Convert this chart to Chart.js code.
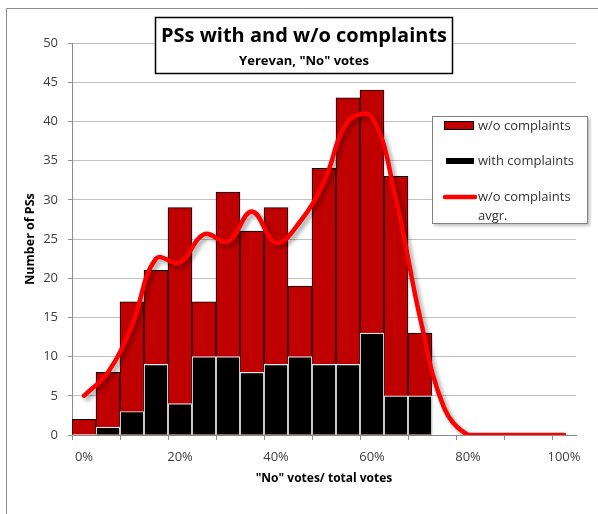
<!DOCTYPE html>
<html>
<head>
<meta charset="utf-8">
<script src="https://cdn.jsdelivr.net/npm/chart.js@4.4.1/dist/chart.umd.min.js"></script>
<style>
  html, body { margin: 0; padding: 0; background: #fff; }
  #wrap { position: relative; width: 598px; height: 514px; }
</style>
</head>
<body>
<div id="wrap"><canvas id="c" width="598" height="514"></canvas></div>
<script>
const categories = ['0%','5%','10%','15%','20%','25%','30%','35%','40%','45%','50%','55%','60%','65%','70%','75%','80%','85%','90%','95%','100%'];
const woComplaints   = [2, 8, 17, 21, 29, 17, 31, 26, 29, 19, 34, 43, 44, 33, 13, 0, 0, 0, 0, 0, 0];
const withComplaints = [0, 1, 3, 9, 4, 10, 10, 8, 9, 10, 9, 9, 13, 5, 5, 0, 0, 0, 0, 0, 0];
const woAvg          = [5, 8, 14, 22.5, 22, 25.6, 24.7, 28.5, 24.5, 27.2, 32.3, 40, 40.5, 30, 15, 3.5, 0, 0, 0, 0, 0];
const yTicks = [0, 5, 10, 15, 20, 25, 30, 35, 40, 45, 50];
const titleText = 'PSs with and w/o complaints';
const subtitleText = 'Yerevan, "No" votes';
const seriesNames = ['w/o complaints', 'with complaints', 'w/o complaints avgr.'];
const xTitle = '"No" votes/ total votes';
const yTitle = 'Number of PSs';

const FONT = '"Open Sans", "DejaVu Sans", sans-serif';

const decor = {
  id: 'decor',
  beforeDraw(chart) {
    const ctx = chart.ctx;
    ctx.save();
    ctx.fillStyle = '#fff';
    ctx.fillRect(0, 0, chart.width, chart.height);
    ctx.strokeStyle = '#8c8c8c';
    ctx.lineWidth = 1;
    ctx.beginPath();
    ctx.moveTo(6.5, 514);
    ctx.lineTo(6.5, 8.5);
    ctx.lineTo(598, 8.5);
    ctx.stroke();
    ctx.restore();
  },
  beforeDatasetDraw(chart, args) {
    if (args.index === 2) {
      const ctx = chart.ctx;
      ctx.save();
      ctx.shadowColor = 'rgba(0,0,0,0.35)';
      ctx.shadowBlur = 4;
      ctx.shadowOffsetX = 3;
      ctx.shadowOffsetY = 3;
    }
  },
  afterDatasetDraw(chart, args) {
    if (args.index === 2) chart.ctx.restore();
  },
  afterDraw(chart) {
    const ctx = chart.ctx;
    ctx.save();
    // Title box
    ctx.fillStyle = '#fff';
    ctx.fillRect(155, 17, 298, 57);
    ctx.strokeStyle = '#000';
    ctx.lineWidth = 1.5;
    ctx.strokeRect(155.5, 17.5, 297, 56);
    ctx.fillStyle = '#000';
    ctx.textAlign = 'center';
    ctx.textBaseline = 'middle';
    ctx.font = 'bold 20px ' + FONT;
    ctx.fillText(titleText, 304, 36);
    ctx.font = 'bold 13px ' + FONT;
    ctx.fillText(subtitleText, 304, 61);

    // Legend box
    ctx.shadowColor = 'rgba(0,0,0,0.25)';
    ctx.shadowBlur = 3;
    ctx.shadowOffsetX = 2;
    ctx.shadowOffsetY = 2;
    ctx.fillStyle = '#fff';
    ctx.fillRect(432, 116, 156, 108);
    ctx.shadowColor = 'transparent';
    ctx.strokeStyle = '#808080';
    ctx.lineWidth = 1;
    ctx.strokeRect(432.5, 116.5, 155, 107);

    const ds = chart.data.datasets;
    // red swatch
    ctx.fillStyle = ds[0].backgroundColor;
    ctx.fillRect(444, 121, 30, 9);
    ctx.strokeStyle = '#000';
    ctx.strokeRect(444.5, 121.5, 29, 8);
    // black swatch
    ctx.fillStyle = ds[1].backgroundColor;
    ctx.fillRect(446, 158, 28, 6);
    // line swatch
    ctx.strokeStyle = ds[2].borderColor;
    ctx.lineWidth = 4.5;
    ctx.lineCap = 'round';
    ctx.beginPath();
    ctx.moveTo(445, 197);
    ctx.lineTo(475, 197);
    ctx.stroke();

    ctx.fillStyle = '#333';
    ctx.textAlign = 'left';
    ctx.textBaseline = 'middle';
    ctx.font = '13px ' + FONT;
    ctx.fillText(ds[0].label, 478, 126);
    ctx.fillText(ds[1].label, 478, 161);
    const parts = ds[2].label.split(' ');
    ctx.fillText(parts.slice(0, 2).join(' '), 478, 197);
    ctx.fillText(parts.slice(2).join(' '), 478, 216);
    ctx.restore();
  }
};

new Chart(document.getElementById('c'), {
  type: 'bar',
  data: {
    labels: categories,
    datasets: [
      {
        label: seriesNames[0],
        data: woComplaints,
        backgroundColor: '#C00000',
        borderColor: '#000',
        borderWidth: 1,
        grouped: false,
        categoryPercentage: 1,
        barPercentage: 1,
        order: 3
      },
      {
        label: seriesNames[1],
        data: withComplaints,
        backgroundColor: '#000',
        borderColor: '#e6e6e6',
        borderWidth: 1.2,
        grouped: false,
        categoryPercentage: 1,
        barPercentage: 1,
        order: 2
      },
      {
        type: 'line',
        label: seriesNames[2],
        data: woAvg,
        borderColor: '#FF0000',
        borderWidth: 4.5,
        pointRadius: 0,
        tension: 0.4,
        fill: false,
        order: 1,
        borderCapStyle: 'round'
      }
    ]
  },
  options: {
    responsive: false,
    animation: false,
    devicePixelRatio: 1,
    layout: { padding: { left: 0, right: 22, top: 43, bottom: 0 } },
    plugins: {
      legend: { display: false },
      title: { display: false },
      tooltip: { enabled: false }
    },
    scales: {
      x: {
        type: 'category',
        offset: true,
        afterFit(s) { s.height = 79; },
        border: { display: true, color: '#8c8c8c', width: 1 },
        grid: {
          display: true,
          offset: true,
          drawOnChartArea: false,
          drawTicks: true,
          tickLength: 5,
          color: (c) => (c.index % 2 === 0 ? '#8c8c8c' : 'rgba(0,0,0,0)')
        },
        ticks: {
          autoSkip: false,
          maxRotation: 0,
          minRotation: 0,
          padding: 9,
          color: '#404040',
          font: { family: FONT, size: 13 },
          callback(v, i) { return i % 4 === 0 ? categories[i] : ''; }
        },
        title: {
          display: true,
          text: xTitle,
          color: '#000',
          font: { family: FONT, size: 12, weight: 'bold' },
          padding: { top: 0, bottom: 28 }
        }
      },
      y: {
        min: 0,
        max: 50,
        afterFit(s) { s.width = 72; },
        afterBuildTicks(s) { s.ticks = yTicks.map(v => ({ value: v })); },
        border: { display: true, color: '#8c8c8c', width: 1 },
        grid: {
          color: '#c0c0c0',
          lineWidth: 1,
          drawTicks: true,
          tickLength: 4,
          tickColor: '#8c8c8c'
        },
        ticks: {
          padding: 10,
          color: '#404040',
          font: { family: FONT, size: 13 }
        },
        title: {
          display: true,
          text: yTitle,
          color: '#000',
          font: { family: FONT, size: 12.5, weight: 'bold' },
          padding: { top: 23, bottom: 0 }
        }
      }
    }
  },
  plugins: [decor]
});
</script>
</body>
</html>
